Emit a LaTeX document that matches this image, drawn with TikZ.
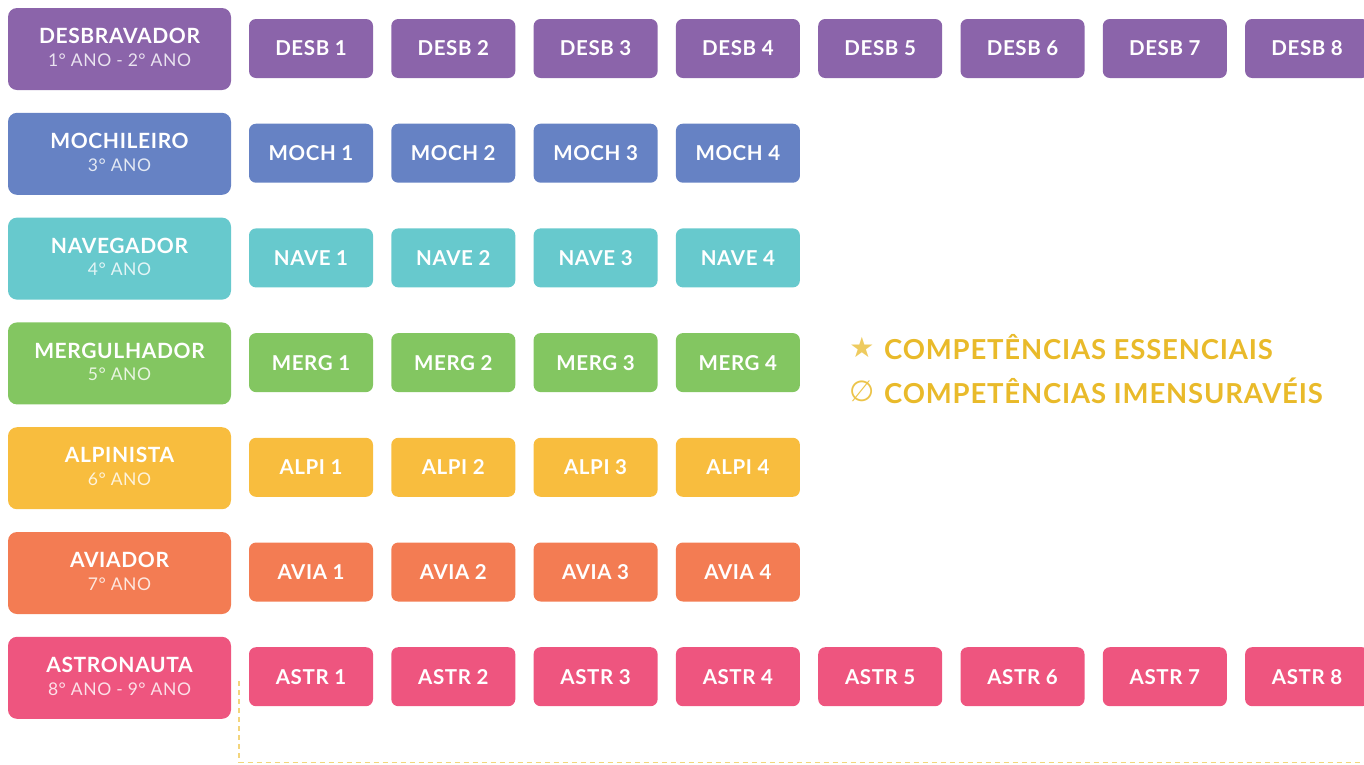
\documentclass[tikz,border=0pt]{standalone}
\usepackage{fontspec}
\setmainfont{Lato}[LetterSpace=3]
\newfontfamily\symfont{DejaVu Sans}
\definecolor{cdesb}{HTML}{8B64AA}
\definecolor{cmoch}{HTML}{6682C4}
\definecolor{cnave}{HTML}{67C9CD}
\definecolor{cmerg}{HTML}{83C661}
\definecolor{calpi}{HTML}{F8BD3E}
\definecolor{cavia}{HTML}{F37C53}
\definecolor{castr}{HTML}{EE557F}
\definecolor{clegend}{HTML}{E9BA2A}
\definecolor{cdash}{HTML}{F3D57C}
\begin{document}
\begin{tikzpicture}[x=1pt,y=-1pt,
  head/.style={rounded corners=9pt, minimum width=223pt, minimum height=82pt, inner sep=0pt},
  cell/.style={rounded corners=7pt, minimum width=124pt, minimum height=59pt, inner sep=0pt, text=white, font=\fontsize{20.5}{21}\selectfont\bfseries},
  ttl/.style={inner sep=0pt, text=white, font=\fontsize{21}{21}\selectfont\bfseries},
  sub/.style={inner sep=0pt, font=\fontsize{17.5}{18}\selectfont},
  legendtext/.style={text=clegend, font=\fontsize{27.5}{27}\selectfont\bfseries, inner sep=0pt, anchor=west},
  legendsym/.style={inner sep=0pt},
  dashline/.style={draw=cdash, line width=1.4pt, dash pattern=on 5pt off 4pt}
]
\useasboundingbox (0,0) rectangle (1364,764);
\foreach \i/\t/\s/\a/\n/\c in {
  0/DESBRAVADOR/{1° ANO - 2° ANO}/DESB/8/cdesb,
  1/MOCHILEIRO/{3° ANO}/MOCH/4/cmoch,
  2/NAVEGADOR/{4° ANO}/NAVE/4/cnave,
  3/MERGULHADOR/{5° ANO}/MERG/4/cmerg,
  4/ALPINISTA/{6° ANO}/ALPI/4/calpi,
  5/AVIADOR/{7° ANO}/AVIA/4/cavia,
  6/ASTRONAUTA/{8° ANO - 9° ANO}/ASTR/8/castr}{
  \node[head, fill=\c] (h\a) at (119.5,{49+104.8*\i}) {};
  \node[ttl] (t\a) at ([yshift=13pt]h\a.center) {\t};
  \node[sub, text=white!82!\c] (s\a) at ([yshift=-11pt]h\a.center) {\s};
  \foreach \k in {1,...,\n}{
    \node[cell, fill=\c] (\a\k) at ({311+142.3*(\k-1)},{48.5+104.7*\i}) {\a\ \k};
  }
}
\node[legendsym, text=clegend!75] (star) at (862,347) {\symfont\fontsize{28}{28}\selectfont ★};
\node[legendtext] (ess) at (884,347) {COMPETÊNCIAS ESSENCIAIS};
\node[legendsym, text=clegend!85] (nul) at (862,391) {\symfont\fontsize{29}{29}\selectfont ∅};
\node[legendtext] (imm) at (884,391) {COMPETÊNCIAS IMENSURAVÉIS};
\coordinate (d0) at (239,681);
\coordinate (d1) at (1364,762.5);
\draw[dashline] (d0) |- (d1);
\end{tikzpicture}
\end{document}
